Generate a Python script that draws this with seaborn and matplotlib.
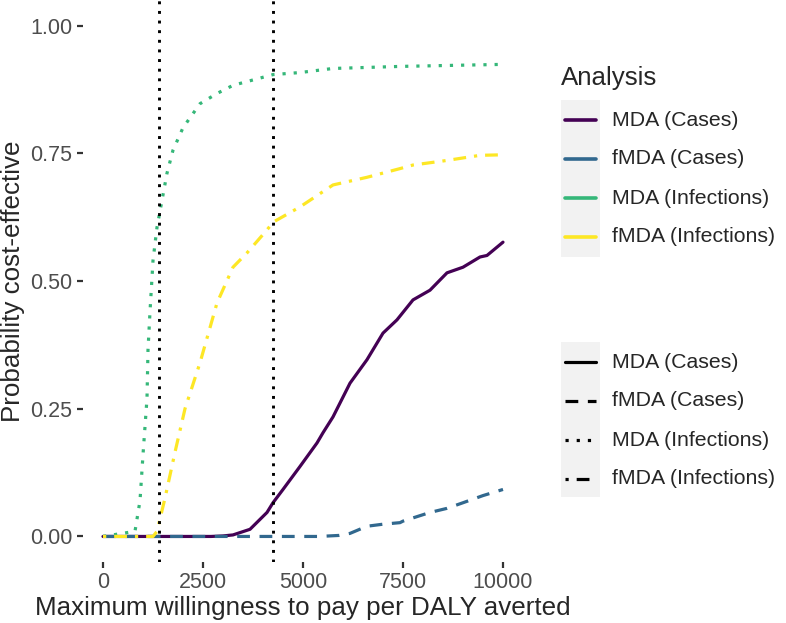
import matplotlib
matplotlib.use("Agg")
import matplotlib.pyplot as plt
from matplotlib.lines import Line2D
from matplotlib.patches import Rectangle
import pandas as pd
import seaborn as sns

sns.set_theme(style="white")
plt.rcParams["font.family"] = ["Liberation Sans", "DejaVu Sans"]

# willingness to pay (x) and probability cost-effective (y) per analysis
mda_cases_x = [0, 2700, 3000, 3250, 3675, 4100, 4250, 4500, 4925, 5350, 5500, 5750, 6175,
               6600, 7000, 7350, 7750, 8175, 8600, 9000, 9425, 9600, 10000]
mda_cases_y = [0, 0, 0.001, 0.003, 0.014, 0.047, 0.066, 0.092, 0.137, 0.183, 0.203, 0.234, 0.30,
               0.346, 0.398, 0.424, 0.463, 0.482, 0.516, 0.527, 0.547, 0.55, 0.576]

fmda_cases_x = [0, 5400, 5900, 6175, 6600, 7000, 7425, 7500, 8175, 8600, 9000, 9500, 10000]
fmda_cases_y = [0, 0, 0.002, 0.006, 0.02, 0.024, 0.027, 0.03, 0.047, 0.055, 0.066, 0.08, 0.092]

mda_inf_x = [0, 800, 925, 1000, 1100, 1125, 1175, 1250, 1350, 1475, 1600, 1750, 2000, 2425,
             2850, 3250, 4250, 4925, 5750, 6600, 7425, 8700, 10000]
mda_inf_y = [0, 0.01, 0.07, 0.16, 0.27, 0.365, 0.44, 0.54, 0.605, 0.658, 0.711, 0.756, 0.80, 0.847,
             0.867, 0.883, 0.904, 0.908, 0.916, 0.918, 0.92, 0.922, 0.924]

fmda_inf_x = [0, 1250, 1350, 1550, 1800, 2050, 2425, 2850, 3250, 3600, 4100, 4250, 4925,
              5750, 6600, 7425, 7750, 8600, 9425, 10000]
fmda_inf_y = [0, 0, 0.01, 0.075, 0.165, 0.25, 0.34, 0.457, 0.527, 0.555, 0.60, 0.615, 0.645,
              0.688, 0.703, 0.72, 0.727, 0.736, 0.746, 0.747]

analyses = ["MDA (Cases)", "fMDA (Cases)", "MDA (Infections)", "fMDA (Infections)"]
colors = ["#440154", "#31688E", "#35B779", "#FDE725"]
dash_styles = ["", (4, 3), (1, 2.5), (1, 2.5, 4, 2.5)]

threshold_lines = [1400, 4250]

frames = []
for name, xs, ys in zip(analyses,
                        [mda_cases_x, fmda_cases_x, mda_inf_x, fmda_inf_x],
                        [mda_cases_y, fmda_cases_y, mda_inf_y, fmda_inf_y]):
    frames.append(pd.DataFrame({"wtp": xs, "prob": ys, "Analysis": name}))
df = pd.concat(frames, ignore_index=True)

W, H = 786, 623
fig = plt.figure(figsize=(W / 100, H / 100), dpi=100)
ax = fig.add_axes([83 / W, 1 - 562 / H, (523 - 83) / W, 562 / H])

sns.lineplot(data=df, x="wtp", y="prob", hue="Analysis", style="Analysis",
             hue_order=analyses, style_order=analyses,
             palette=dict(zip(analyses, colors)), dashes=dict(zip(analyses, dash_styles)),
             linewidth=2.3, legend=False, ax=ax)

for v in threshold_lines:
    ax.axvline(v, color="black", linewidth=2.1, dashes=(1, 2.3))

ax.set_xlim(-500, 10500)
ax.set_ylim(-0.05, 1.05)
ax.set_xticks([0, 2500, 5000, 7500, 10000])
ax.set_yticks([0, 0.25, 0.5, 0.75, 1.0])
ax.set_yticklabels(["0.00", "0.25", "0.50", "0.75", "1.00"])
for s in ax.spines.values():
    s.set_visible(False)
ax.tick_params(axis="both", length=4, width=1.6, color="#333333", labelcolor="#4D4D4D",
               labelsize=15.5, bottom=True, left=True)
ax.tick_params(axis="x", pad=3.5)
ax.tick_params(axis="y", pad=3.5)
ax.set_xlabel("Maximum willingness to pay per DALY averted", fontsize=18.7, labelpad=2)
ax.set_ylabel("Probability cost-effective", fontsize=18.7, labelpad=4)


def fp(x, y):
    return (x / W, 1 - y / H)


# legend for colour
fig.text(*fp(561, 78), "Analysis", fontsize=18.6, va="center", ha="left")
fig.add_artist(Rectangle(fp(561, 257), 39 / W, 157 / H, transform=fig.transFigure,
                         facecolor="#F2F2F2", edgecolor="none"))
for i, (name, c) in enumerate(zip(analyses, colors)):
    yy = 120 + 39 * i
    fig.add_artist(Line2D([565 / W, 596 / W], [1 - yy / H] * 2, transform=fig.transFigure,
                          color=c, linewidth=2.6))
    fig.text(*fp(612, yy), name, fontsize=15.3, va="center", ha="left")

# legend for line type
fig.add_artist(Rectangle(fp(561, 497), 39 / W, 155 / H, transform=fig.transFigure,
                         facecolor="#F2F2F2", edgecolor="none"))
for i, (name, d) in enumerate(zip(analyses, dash_styles)):
    yy = 362 + 39 * i
    ln = Line2D([565 / W, 596 / W], [1 - yy / H] * 2, transform=fig.transFigure,
                color="black", linewidth=2.3)
    if d:
        ln.set_dashes(d)
    fig.add_artist(ln)
    fig.text(*fp(612, yy), name, fontsize=15.3, va="center", ha="left")

fig.savefig("out.png", dpi=100)
